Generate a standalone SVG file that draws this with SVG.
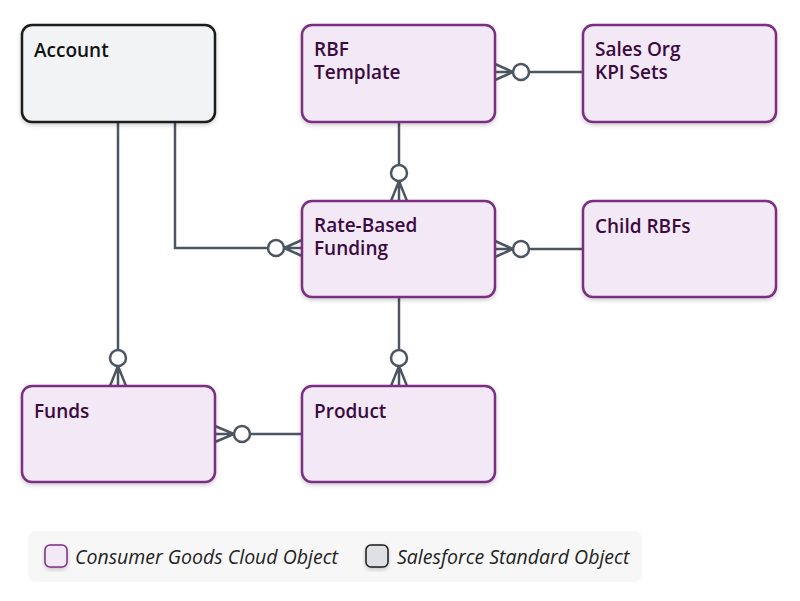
<svg xmlns="http://www.w3.org/2000/svg" width="800" height="601" viewBox="0 0 800 601">
<style>
.n{fill:#f3e8f5;stroke:#7b2d82;stroke-width:2.5}
.s{fill:#f2f3f5;stroke:#1a1a1a;stroke-width:2.5}
.t{font-family:"Open Sans","Noto Sans",sans-serif;font-size:19px;font-weight:600;fill:#3b0a40}
.ts{font-family:"Open Sans","Noto Sans",sans-serif;font-size:19px;font-weight:600;fill:#111}
.c path{fill:none;stroke:#4d5560;stroke-width:2.5}
.c circle{fill:#fff;stroke:#4d5560;stroke-width:2.5}
.l{font-family:"Open Sans","Noto Sans",sans-serif;font-size:19.5px;font-style:italic;fill:#222}
</style>
<defs><filter id="sh" x="-10%" y="-10%" width="120%" height="130%"><feDropShadow dx="0" dy="2" stdDeviation="2" flood-opacity="0.2"/></filter></defs>
<g class="c" id="connectors">
<path d="M583,72H529M495,64L513,72L495,80M495,72H513"/><circle cx="521" cy="72" r="8"/>
<path d="M399,122V165M391,201L399,181L407,201M399,201V181"/><circle cx="399" cy="173" r="8"/>
<path d="M175,122V248H268M302,240L284,248L302,256M302,248H284"/><circle cx="276" cy="248" r="8"/>
<path d="M583,249H529M495,241L513,249L495,257M495,249H513"/><circle cx="521" cy="249" r="8"/>
<path d="M118,122V350M110,386L118,366L126,386M118,386V366"/><circle cx="118" cy="358" r="8"/>
<path d="M399,297V350M391,386L399,366L407,386M399,386V366"/><circle cx="399" cy="358" r="8"/>
<path d="M302,434H250M215,426L234,434L215,442M215,434H234"/><circle cx="242" cy="434" r="8"/>
</g>
<g id="account"><rect class="s" x="22" y="25" width="193" height="97" rx="10" filter="url(#sh)"/><text class="ts" x="34" y="57">Account</text></g>
<g id="rbf-template"><rect class="n" x="302" y="25" width="193" height="97" rx="10" filter="url(#sh)"/><text class="t" x="314" y="56">RBF</text><text class="t" x="314" y="79">Template</text></g>
<g id="sales-org"><rect class="n" x="583" y="25" width="193" height="97" rx="10" filter="url(#sh)"/><text class="t" x="595" y="56">Sales Org</text><text class="t" x="595" y="79">KPI Sets</text></g>
<g id="rate-based-funding"><rect class="n" x="302" y="201" width="193" height="96" rx="10" filter="url(#sh)"/><text class="t" x="314" y="232">Rate-Based</text><text class="t" x="314" y="255">Funding</text></g>
<g id="child-rbfs"><rect class="n" x="583" y="201" width="193" height="96" rx="10" filter="url(#sh)"/><text class="t" x="595" y="233">Child RBFs</text></g>
<g id="funds"><rect class="n" x="22" y="386" width="193" height="96" rx="10" filter="url(#sh)"/><text class="t" x="34" y="418">Funds</text></g>
<g id="product"><rect class="n" x="302" y="386" width="193" height="96" rx="10" filter="url(#sh)"/><text class="t" x="314" y="418">Product</text></g>
<g id="legend">
<rect x="28" y="531" width="614" height="51" rx="8" fill="#f7f7f8"/>
<rect x="45" y="545" width="22" height="22" rx="5" fill="#f3e8f5" stroke="#7b2d82" stroke-width="1.5" filter="url(#sh)"/>
<text class="l" x="75" y="564">Consumer Goods Cloud Object</text>
<rect x="366" y="545" width="22" height="22" rx="5" fill="#dde0e4" stroke="#1a1a1a" stroke-width="1.5" filter="url(#sh)"/>
<text class="l" x="397" y="564">Salesforce Standard Object</text>
</g>
</svg>
